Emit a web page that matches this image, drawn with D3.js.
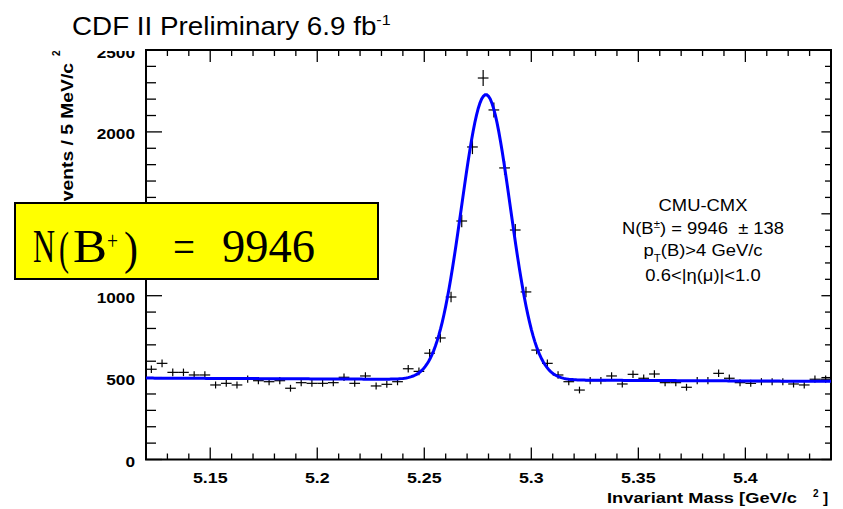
<!DOCTYPE html>
<html>
<head>
<meta charset="utf-8">
<script src="https://cdn.jsdelivr.net/npm/d3@7"></script>
<style>
  html, body { margin: 0; padding: 0; background: #fff; }
  svg { display: block; }
</style>
</head>
<body>
<div id="chart"></div>
<script>
// ---------------- data ----------------
const massMin = 5.12, massMax = 5.44, binWidth = 0.005;
// counts per 5 MeV bin, from 5.120 to 5.440 GeV/c^2 (64 bins)
const counts = [
  551, 587, 532, 532, 516, 516, 455, 465, 455, 490,
  481, 475, 481, 435, 469, 465, 465, 469, 502, 465,
  510, 449, 459, 475, 554, 538, 649, 742, 992, 1456,
  1908, 2329, 2134, 1780, 1401, 1023, 668, 587, 516, 475,
  424, 481, 481, 510, 461, 520, 496, 522, 469, 469,
  441, 481, 481, 526, 496, 469, 465, 475, 475, 475,
  461, 455, 490, 490
];
// fit parameters (Gaussian signal + linear background)
const fitYield = 9946, fitMean = 5.2788, fitSigma = 0.0114;
const bkgLeft = 497, bkgRight = 477;

const xMajorTicks = [5.15, 5.2, 5.25, 5.3, 5.35, 5.4];
const xTickLabels = ["5.15", "5.2", "5.25", "5.3", "5.35", "5.4"];
const yMajorTicks = [0, 500, 1000, 1500, 2000, 2500];
const yTickLabels = ["0", "500", "1000", "1500", "2000", "2500"];

// ---------------- layout ----------------
const W = 843, H = 509;
const L = 146, R = 831, T = 50, B = 459.5;
const SX = 1.15; // horizontal stretch of the original picture

const svg = d3.select("#chart").append("svg").attr("width", W).attr("height", H);
svg.append("rect").attr("width", W).attr("height", H).attr("fill", "#fff");

const x = d3.scaleLinear().domain([massMin, massMax]).range([L, R]);
const y = d3.scaleLinear().domain([0, 2500]).range([B, T]);

const FONT = "'Liberation Sans', Arial, Helvetica, sans-serif";

// ---------------- ticks ----------------
const minorX = d3.range(Math.round((massMax - massMin) / 0.01) + 1).map(i => +(massMin + i * 0.01).toFixed(3));
const minorY = d3.range(0, 2501, 100);
const isMajorX = v => xMajorTicks.some(m => Math.abs(m - v) < 1e-6);
const isMajorY = v => v % 500 === 0;

const tickG = svg.append("g").attr("stroke", "#000").attr("stroke-width", 1.3);
minorX.forEach(v => {
  const len = isMajorX(v) ? 12 : 6;
  tickG.append("line").attr("x1", x(v)).attr("x2", x(v)).attr("y1", B).attr("y2", B - len);
  tickG.append("line").attr("x1", x(v)).attr("x2", x(v)).attr("y1", T).attr("y2", T + len);
});
minorY.forEach(v => {
  const len = isMajorY(v) ? 16 : 10;
  tickG.append("line").attr("x1", L).attr("x2", L + len).attr("y1", y(v)).attr("y2", y(v));
  tickG.append("line").attr("x1", R).attr("x2", R - len * 0.6).attr("y1", y(v)).attr("y2", y(v));
});

// frame
svg.append("rect").attr("x", L).attr("y", T).attr("width", R - L).attr("height", B - T)
  .attr("fill", "none").attr("stroke", "#000").attr("stroke-width", 2);

// tick labels
function stretchedText(px, py, anchor, size, weight, sx) {
  return svg.append("text")
    .attr("transform", `translate(${px},${py}) scale(${sx || SX},1)`)
    .attr("text-anchor", anchor)
    .attr("font-family", FONT).attr("font-size", size).attr("font-weight", weight)
    .attr("fill", "#000");
}
xMajorTicks.forEach((v, i) => {
  stretchedText(x(v), 483, "middle", 15.5, "bold").text(xTickLabels[i]);
});
svg.append("clipPath").attr("id", "ylabclip").append("rect")
  .attr("x", 0).attr("y", T + 1).attr("width", L).attr("height", H);
const ylabG = svg.append("g").attr("clip-path", "url(#ylabclip)");
yMajorTicks.forEach((v, i) => {
  ylabG.append("text")
    .attr("transform", `translate(135,${y(v) + 7.5}) scale(${SX},1)`)
    .attr("text-anchor", "end")
    .attr("font-family", FONT).attr("font-size", 15).attr("font-weight", "bold")
    .text(yTickLabels[i]);
});

// axis titles
const xt = svg.append("text")
  .attr("font-family", FONT).attr("font-size", 15.5).attr("font-weight", "bold");
xt.append("tspan").attr("x", 607).attr("y", 503)
  .attr("textLength", 190).attr("lengthAdjust", "spacingAndGlyphs")
  .text("Invariant Mass [GeV/c");
xt.append("tspan").attr("x", 813).attr("y", 497).attr("font-size", 10).text("2");
xt.append("tspan").attr("x", 823).attr("y", 503).text("]");

const yt = svg.append("text")
  .attr("transform", "translate(73,0) rotate(-90)")
  .attr("font-family", FONT).attr("font-size", 16).attr("font-weight", "bold");
yt.append("tspan").attr("x", -214).attr("y", 0)
  .attr("textLength", 151).attr("lengthAdjust", "spacingAndGlyphs")
  .text("Events / 5 MeV/c");
yt.append("tspan").attr("x", -56).attr("y", -13).attr("font-size", 10).text("2");

// title
const tt = stretchedText(72, 35, "start", 26, "normal", 1.07);
tt.append("tspan").text("CDF II Preliminary 6.9 fb");
tt.append("tspan").attr("dy", -10).attr("font-size", 15).text("-1");

// ---------------- data points ----------------
const bins = counts.map((c, i) => ({ lo: massMin + i * binWidth, hi: massMin + (i + 1) * binWidth, c }));
const pts = svg.append("g").attr("stroke", "#000").attr("stroke-width", 1.2);
bins.forEach(b => {
  const e = Math.sqrt(b.c);
  pts.append("line").attr("x1", x(b.lo)).attr("x2", x(b.hi)).attr("y1", y(b.c)).attr("y2", y(b.c));
  pts.append("line").attr("x1", x((b.lo + b.hi) / 2)).attr("x2", x((b.lo + b.hi) / 2))
    .attr("y1", y(b.c - e)).attr("y2", y(b.c + e));
});

// ---------------- fit curve ----------------
const amp = fitYield * binWidth / (fitSigma * Math.sqrt(2 * Math.PI));
const fitFn = m => bkgLeft + (bkgRight - bkgLeft) * (m - massMin) / (massMax - massMin)
  + amp * Math.exp(-0.5 * Math.pow((m - fitMean) / fitSigma, 2));
const fitPts = d3.range(0, 401).map(i => massMin + (massMax - massMin) * i / 400);
svg.append("path")
  .datum(fitPts)
  .attr("d", d3.line().x(m => x(m)).y(m => y(fitFn(m))))
  .attr("fill", "none").attr("stroke", "#0000ff").attr("stroke-width", 3);

// ---------------- legend text ----------------
const cx = 703;
const l1 = stretchedText(cx, 211, "middle", 16, "normal"); l1.text("CMU-CMX");
const l2 = stretchedText(cx, 234, "middle", 16, "normal");
l2.append("tspan").text("N(B");
l2.append("tspan").attr("dy", -6).attr("font-size", 10).text("\u00B1");
l2.append("tspan").attr("dy", 6).text(") = 9946 \u00A0\u00B1 138");
const l3 = stretchedText(cx, 256, "middle", 16, "normal");
l3.append("tspan").text("p");
l3.append("tspan").attr("dy", 6).attr("font-size", 10).text("T");
l3.append("tspan").attr("dy", -6).text("(B)>4 GeV/c");
const l4 = stretchedText(cx, 281, "middle", 16, "normal"); l4.text("0.6<|\u03B7(\u03BC)|<1.0");

// ---------------- yellow annotation box ----------------
svg.append("rect").attr("x", 15).attr("y", 203).attr("width", 363).attr("height", 76)
  .attr("fill", "#ffff00").attr("stroke", "#000").attr("stroke-width", 2);
const SERIF = "'Liberation Serif', 'DejaVu Serif', serif";
const glyphs = [
  { t: "N", x: 33, w: 22, y: 262, s: 46 },
  { t: "(", x: 59, w: 10, y: 264, s: 46 },
  { t: "B", x: 73, w: 34, y: 262, s: 46 },
  { t: "+", x: 107, w: 11, y: 249, s: 26 },
  { t: ")", x: 124, w: 14, y: 264, s: 46 },
  { t: "=", x: 173, w: 22, y: 262, s: 46 },
  { t: "9946", x: 222, w: 93, y: 262, s: 46 }
];
glyphs.forEach(g => {
  svg.append("text").attr("x", g.x).attr("y", g.y)
    .attr("font-family", SERIF).attr("font-size", g.s)
    .attr("textLength", g.w).attr("lengthAdjust", "spacingAndGlyphs")
    .text(g.t);
});
</script>
</body>
</html>
